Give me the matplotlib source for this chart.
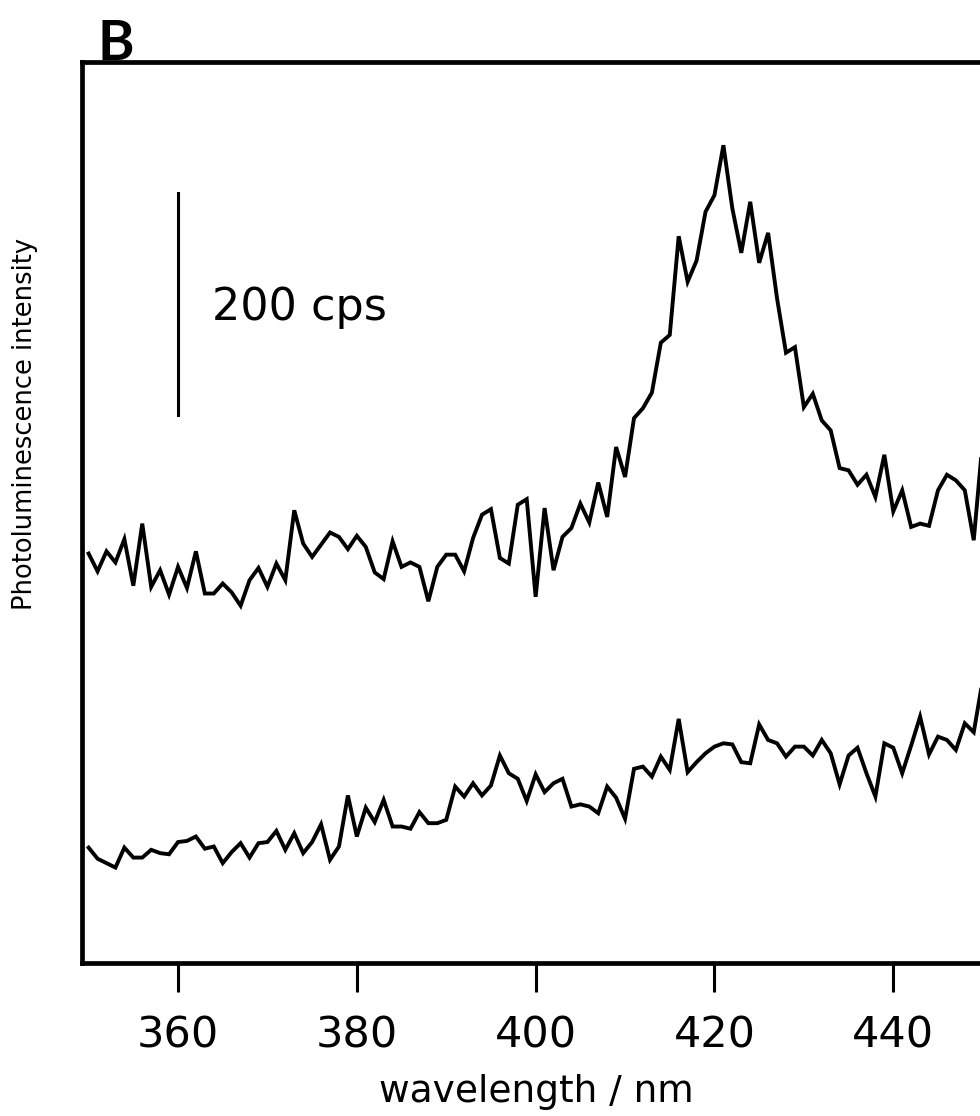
import matplotlib

matplotlib.use("Agg")
import matplotlib.pyplot as plt
import numpy as np

# wavelength grid of the two spectra [nm], 1 nm steps
wavelength = np.arange(350, 451)

# upper trace [cps]
upper = [
    369, 353, 371, 361, 382, 340, 396, 339, 354, 332,
    357, 338, 371, 333, 333, 342, 334, 322, 345, 356,
    339, 360, 345, 408, 378, 366, 377, 388, 384, 373,
    385, 375, 352, 346, 380, 357, 361, 357, 326, 357,
    368, 368, 353, 383, 404, 409, 365, 360, 413, 418,
    330, 410, 354, 384, 392, 414, 397, 433, 402, 465,
    438, 491, 500, 514, 559, 566, 655, 614, 633, 677,
    692, 737, 680, 640, 686, 631, 658, 599, 550, 555,
    501, 513, 489, 480, 446, 444, 431, 440, 420, 458,
    407, 426, 393, 396, 394, 426, 440, 435, 426, 381,
    471,
]

# lower trace [cps]
lower = [
    104, 94, 90, 86, 104, 95, 95, 102, 99, 98,
    109, 110, 114, 103, 105, 90, 100, 108, 95, 108,
    109, 119, 102, 117, 99, 109, 125, 93, 105, 151,
    114, 140, 127, 147, 123, 123, 121, 136, 126, 126,
    129, 159, 150, 162, 151, 160, 187, 171, 166, 146,
    170, 154, 162, 166, 141, 143, 141, 135, 159, 149,
    130, 175, 177, 168, 186, 174, 220, 172, 181, 189,
    195, 198, 197, 181, 180, 215, 201, 198, 186, 195,
    195, 187, 201, 189, 161, 187, 194, 171, 150, 198,
    194, 171, 196, 222, 188, 204, 201, 192, 216, 208,
    255,
]

xticks = [360, 380, 400, 420, 440]

# scale bar: 200 cps at 360 nm
bar_x = 360
bar_lo, bar_hi = 494, 694

fig = plt.figure(figsize=(9.8, 11.16), dpi=100)
ax = fig.add_axes([82 / 980, 1 - 963 / 1116, 1 - 82 / 980, (963 - 62) / 1116])

ax.plot(wavelength, upper, color="black", lw=2.8, solid_joinstyle="miter")
ax.plot(wavelength, lower, color="black", lw=2.8, solid_joinstyle="miter")
ax.plot([bar_x, bar_x], [bar_lo, bar_hi], color="black", lw=2.2)
ax.text(363.8, 591, "200 cps", fontsize=32, ha="left", va="center")

ax.set_xlim(349.26, 449.7)
ax.set_ylim(0, 812)
ax.set_xticks(xticks)
ax.set_yticks([])
ax.tick_params(axis="x", direction="out", length=21, width=2.2, pad=16, labelsize=31)
ax.spines["right"].set_visible(False)
for side in ("left", "top", "bottom"):
    ax.spines[side].set_linewidth(3.4)

fig.text(536 / 980, 1 - 1092 / 1116, "wavelength / nm", fontsize=27, ha="center", va="center")
fig.text(25 / 980, 1 - 424 / 1116, "Photoluminescence intensity", fontsize=18.5,
         rotation=90, ha="center", va="center")
fig.text(97 / 980, 1 - 60 / 1116, "B", fontsize=40, fontweight="bold",
         family="Lato", ha="left", va="baseline")

fig.savefig("out.png", dpi=100)
